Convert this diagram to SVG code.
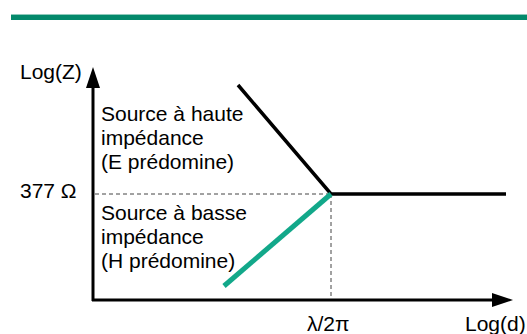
<svg xmlns="http://www.w3.org/2000/svg" width="527" height="334" viewBox="0 0 527 334">
<style>
  text { font-family: "Liberation Sans", Arial, sans-serif; font-size: 21px; fill: #000; }
  .axis { stroke: #000; stroke-width: 3; fill: none; }
  .dash { stroke: #444; stroke-width: 1; stroke-dasharray: 4 3; fill: none; }
  .blk { stroke: #000; stroke-width: 3.5; fill: none; }
  .grn { stroke: #12a88a; stroke-width: 5; fill: none; }
</style>
<defs>
  <marker id="arr" markerWidth="21" markerHeight="14" refX="0" refY="7" orient="auto" markerUnits="userSpaceOnUse">
    <path d="M0,0 L21,7 L0,14 Z" fill="#000"/>
  </marker>
</defs>
<rect x="11" y="14" width="516" height="6" fill="#04896b"/>
<rect x="11" y="14" width="516" height="1" fill="#8fcabb"/>
<g id="axes">
  <line class="axis" x1="93" y1="301" x2="93" y2="88" marker-end="url(#arr)"/>
  <line class="axis" x1="92" y1="300" x2="492" y2="300" marker-end="url(#arr)"/>
</g>
<g id="connectors">
  <line class="dash" x1="95" y1="194" x2="331" y2="194"/>
  <line class="dash" x1="331" y1="194" x2="331" y2="298"/>
  <polyline class="blk" points="238,85 331,194 506,194"/>
  <line class="grn" x1="224" y1="286" x2="331" y2="194"/>
</g>
<g id="labels">
  <text x="20" y="79">Log(Z)</text>
  <text x="20" y="198">377 Ω</text>
  <text x="307" y="331">λ/2π</text>
  <text x="465" y="331">Log(d)</text>
</g>
<g id="high">
  <text x="101" y="121">Source à haute</text>
  <text x="101" y="145">impédance</text>
  <text x="101" y="169">(E prédomine)</text>
</g>
<g id="low">
  <text x="101" y="220">Source à basse</text>
  <text x="101" y="244">impédance</text>
  <text x="101" y="268">(H prédomine)</text>
</g>
</svg>
